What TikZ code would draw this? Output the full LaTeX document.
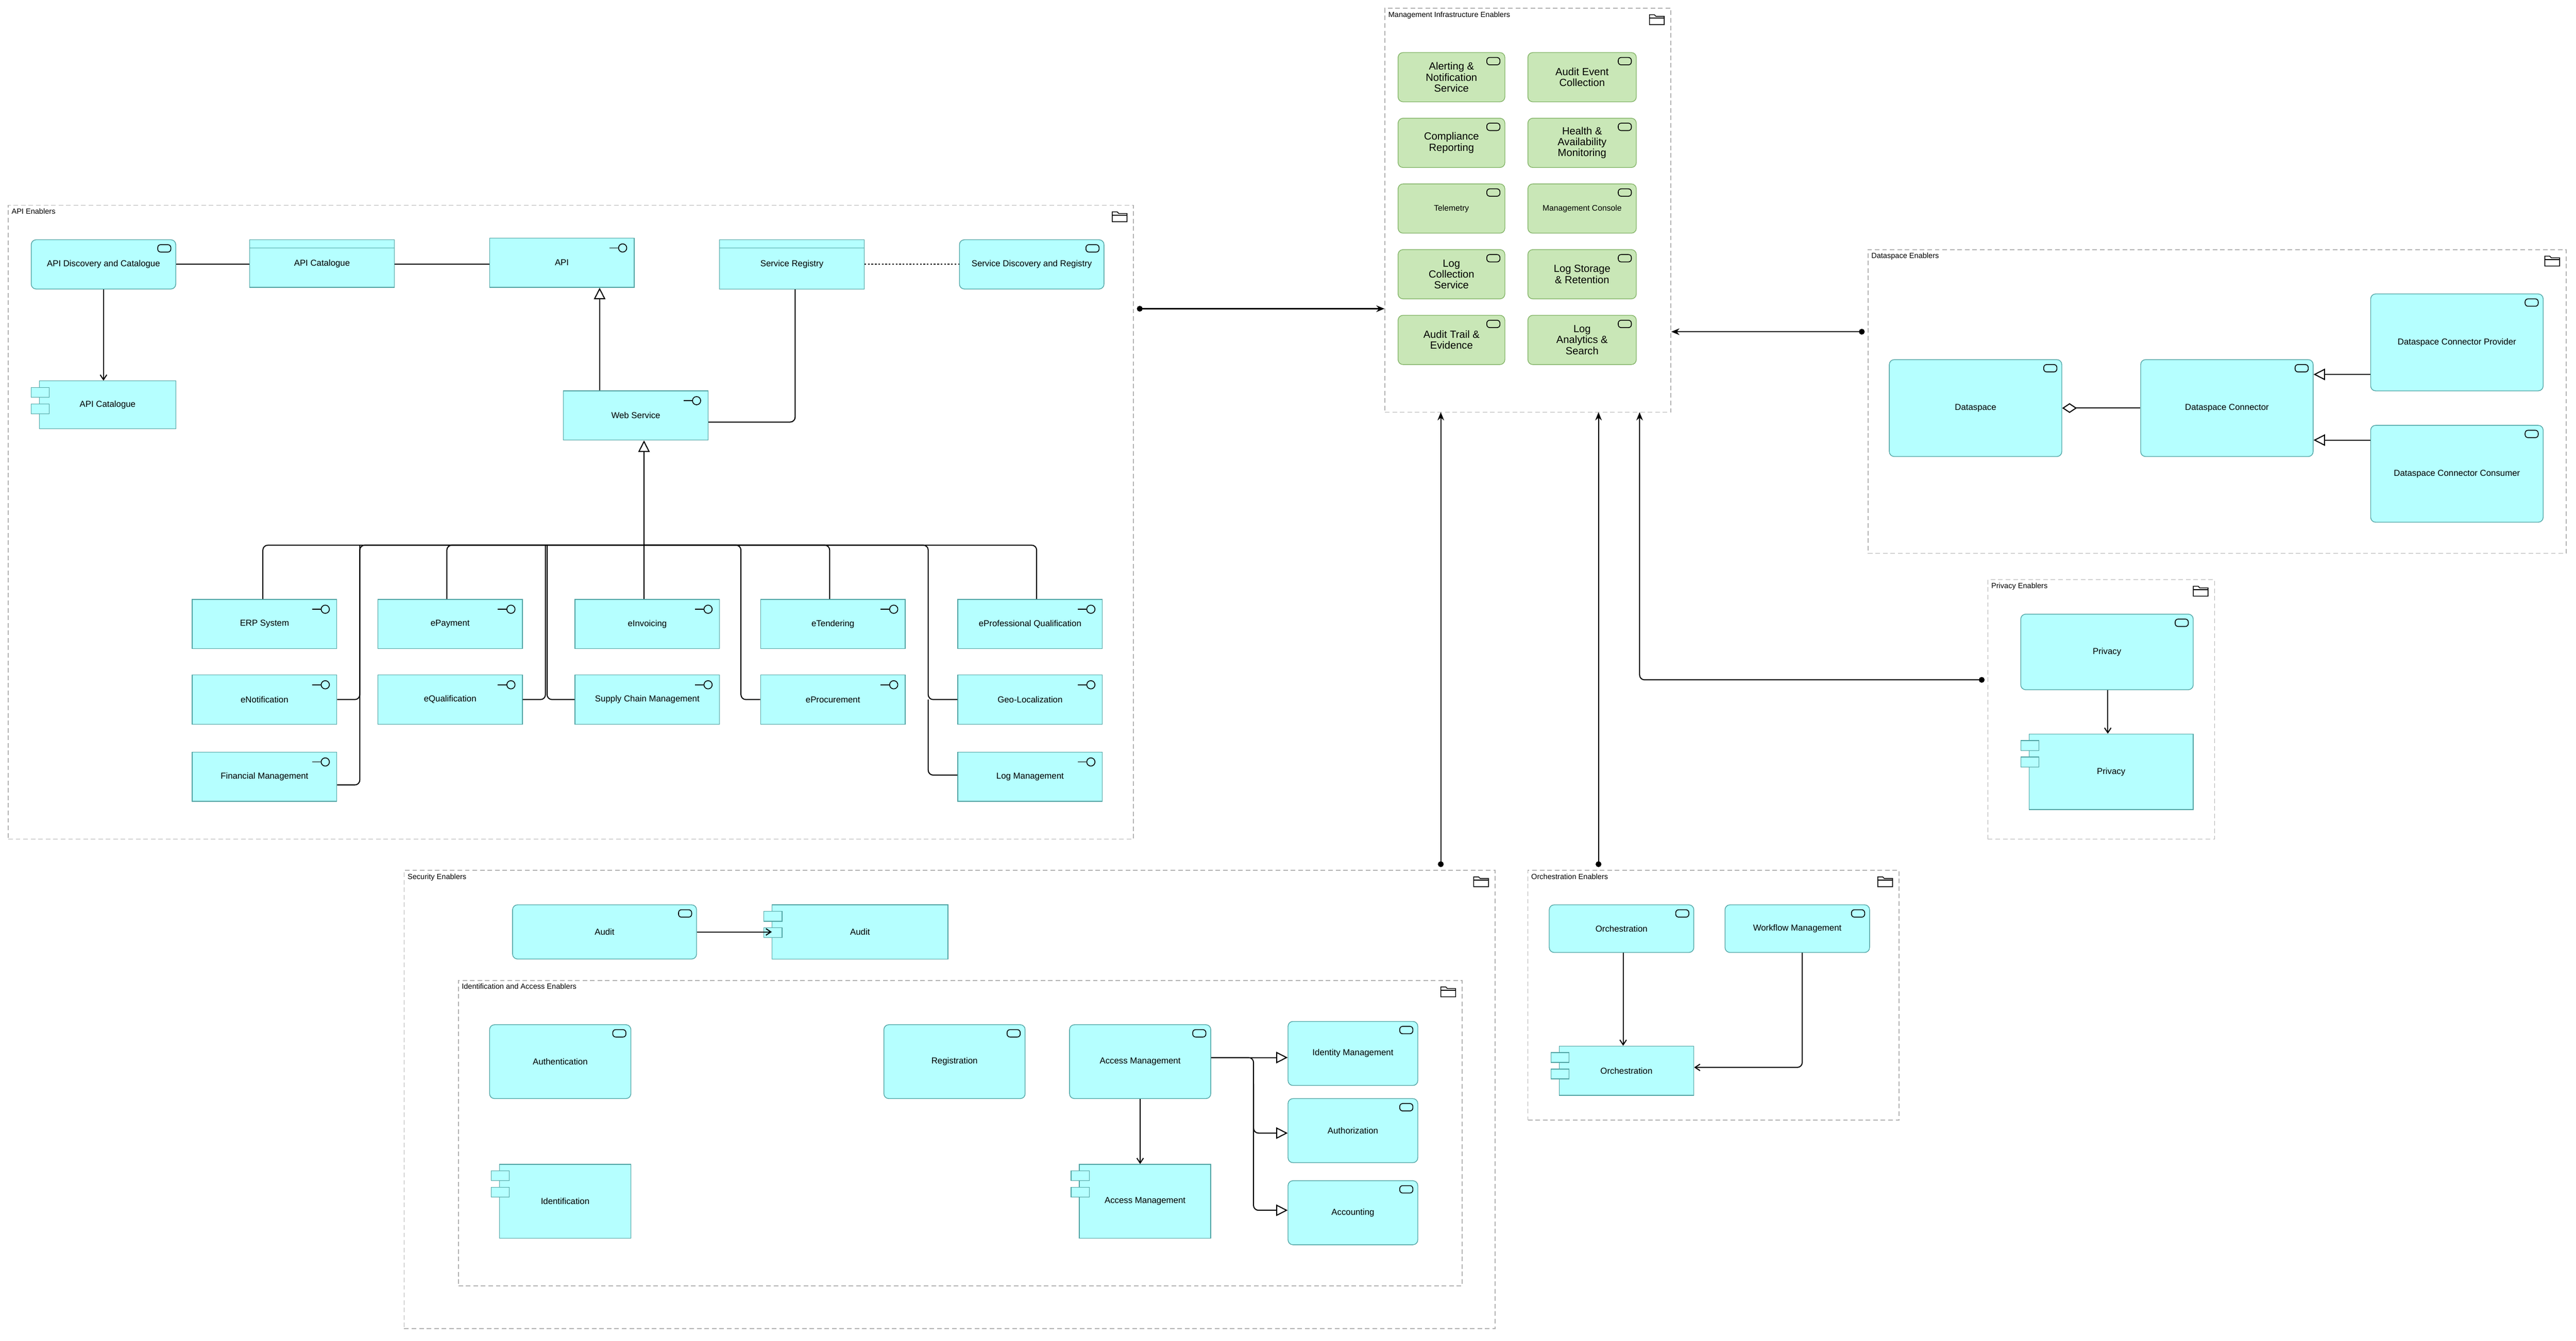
\documentclass[tikz,border=0pt]{standalone}
\usepackage{fontspec}
\setmainfont{Liberation Sans}
\usetikzlibrary{arrows.meta}
\definecolor{cy}{HTML}{B5FFFF}
\definecolor{cyb}{HTML}{4FA3A3}
\definecolor{gr}{HTML}{C9E7B7}
\definecolor{grb}{HTML}{82B366}
\tikzset{
 el/.style={draw=cyb,fill=cy,line width=1.2pt,font=\fontsize{15}{17}\selectfont,align=center,inner sep=0},
 svc/.style={el,rounded corners=3mm},
 gsv/.style={el,draw=grb,fill=gr,rounded corners=3mm,font=\fontsize{18}{19}\selectfont},
 grp/.style={draw=black!30,dash pattern=on 8pt off 5pt,line width=1.5pt,inner sep=0},
 glab/.style={anchor=north west,font=\fontsize{13}{15}\selectfont,inner sep=0},
 ln/.style={line width=1.8pt,black},
 real/.style={ln,-{Triangle[open,length=7mm,width=7mm]}},
 ass/.style={ln,-{Straight Barb[length=3mm,width=4mm]}},
 trig/.style={ln,{Circle[length=3.5mm]}-{Stealth[length=5mm,width=4mm]}},
 ic/.style={line width=1.4pt,black},
}
\newcommand\mybox[7]{\node[#7,minimum width={(#4-#2)*1mm},minimum height={(#5-#3)*1mm}] (#1) at ({(#2+#4)/2},{(#3+#5)/2}) {#6};}
\newcommand\sicon[2]{\draw[ic,rounded corners=1.8mm] ({#1-11},{#2+3}) rectangle ({#1-3},{#2+7.5});}
\newcommand\iicon[2]{\draw[ic] ({#1-15},{#2+6}) -- ({#1-9.5},{#2+6}); \draw[ic] ({#1-7},{#2+6}) circle (2.5);}
\newcommand\cicon[3]{\draw[draw=cyb,fill=cy,line width=1.2pt] ({#1-5},{#2+4}) rectangle ({#1+6},{#2+10}); \draw[draw=cyb,fill=cy,line width=1.2pt] ({#1-5},{#2+14}) rectangle ({#1+6},{#2+20});}
\newcommand\dicon[3]{\draw[cyb,line width=1.2pt] (#1,{#2+5}) -- (#3,{#2+5});}
\newcommand\ficon[2]{\draw[ic] ({#1-13},{#2+4}) -- ({#1-13},{#2+10}) -- ({#1-4},{#2+10}) -- ({#1-4},{#2+5}) -- ({#1-9},{#2+5}) -- ({#1-10},{#2+4}) -- cycle; \draw[ic] ({#1-13},{#2+6}) -- ({#1-4},{#2+6});}
\newcommand\grpbox[6]{\node[grp,minimum width={(#4-#2)*1mm},minimum height={(#5-#3)*1mm}] (#1) at ({(#2+#4)/2},{(#3+#5)/2}) {}; \node[glab] (#1l) at ({#2+2},{#3+2}) {#6}; \ficon{#4}{#3}}
\begin{document}
\begin{tikzpicture}[x=1mm,y=-1mm]
\useasboundingbox[fill=white] (0,0) rectangle (1568,816.4);
% groups
\grpbox{gm}{843}{5}{1017}{251}{Management Infrastructure Enablers}
\grpbox{gapi}{5}{125}{690}{511}{API Enablers}
\grpbox{gds}{1137}{152}{1562}{337}{Dataspace Enablers}
\grpbox{gpr}{1210}{353}{1348}{511}{Privacy Enablers}
\grpbox{gsec}{246}{530}{910}{809}{Security Enablers}
\grpbox{gia}{279}{597}{890}{783}{Identification and Access Enablers}
\grpbox{gor}{930}{530}{1156}{682}{Orchestration Enablers}
% management
\mybox{m1}{851}{32}{916}{62}{Alerting \&\\Notification\\Service}{gsv}\sicon{916}{32}
\mybox{m2}{930}{32}{996}{62}{Audit Event\\Collection}{gsv}\sicon{996}{32}
\mybox{m3}{851}{72}{916}{102}{Compliance\\Reporting}{gsv}\sicon{916}{72}
\mybox{m4}{930}{72}{996}{102}{Health \&\\Availability\\Monitoring}{gsv}\sicon{996}{72}
\mybox{m5}{851}{112}{916}{142}{\fontsize{14}{16}\selectfont Telemetry}{gsv}\sicon{916}{112}
\mybox{m6}{930}{112}{996}{142}{\fontsize{14}{16}\selectfont Management Console}{gsv}\sicon{996}{112}
\mybox{m7}{851}{152}{916}{182}{Log\\Collection\\Service}{gsv}\sicon{916}{152}
\mybox{m8}{930}{152}{996}{182}{Log Storage\\\& Retention}{gsv}\sicon{996}{152}
\mybox{m9}{851}{192}{916}{222}{Audit Trail \&\\Evidence}{gsv}\sicon{916}{192}
\mybox{m10}{930}{192}{996}{222}{Log\\Analytics \&\\Search}{gsv}\sicon{996}{192}
% API
\mybox{apid}{19}{146}{107}{176}{API Discovery and Catalogue}{svc}\sicon{107}{146}
\mybox{apic}{152}{146}{240}{175}{API Catalogue}{el}\dicon{152}{146}{240}
\mybox{api}{298}{145}{386}{175}{API}{el}\iicon{386}{145}
\mybox{sreg}{438}{146}{526}{176}{Service Registry}{el}\dicon{438}{146}{526}
\mybox{sdr}{584}{146}{672}{176}{Service Discovery and Registry}{svc}\sicon{672}{146}
\mybox{apicc}{24}{232}{107}{261}{API Catalogue}{el}\cicon{24}{232}{}
\mybox{ws}{343}{238}{431}{268}{Web Service}{el}\iicon{431}{238}
\mybox{erp}{117}{365}{205}{395}{ERP System}{el}\iicon{205}{365}
\mybox{epay}{230}{365}{318}{395}{ePayment}{el}\iicon{318}{365}
\mybox{einv}{350}{365}{438}{395}{eInvoicing}{el}\iicon{438}{365}
\mybox{eten}{463}{365}{551}{395}{eTendering}{el}\iicon{551}{365}
\mybox{epq}{583}{365}{671}{395}{eProfessional Qualification}{el}\iicon{671}{365}
\mybox{enot}{117}{411}{205}{441}{eNotification}{el}\iicon{205}{411}
\mybox{equal}{230}{411}{318}{441}{eQualification}{el}\iicon{318}{411}
\mybox{scm}{350}{411}{438}{441}{Supply Chain Management}{el}\iicon{438}{411}
\mybox{eproc}{463}{411}{551}{441}{eProcurement}{el}\iicon{551}{411}
\mybox{geo}{583}{411}{671}{441}{Geo-Localization}{el}\iicon{671}{411}
\mybox{fin}{117}{458}{205}{488}{Financial Management}{el}\iicon{205}{458}
\mybox{logm}{583}{458}{671}{488}{Log Management}{el}\iicon{671}{458}
\draw[ln] (apid.east) -- (apic.west |- apid.east); \draw[ln] (apic.east |- apid.east) -- (api.west |- apid.east);
\draw[ln,dash pattern=on 3pt off 3pt] (sreg.east |- sdr.west) -- (sdr.west);
\draw[ass] (apid.south -| 63,0) -- (apicc.north -| 63,0);
\draw[real] (ws.north -| 365,0) -- (api.south -| 365,0);
\draw[ln,rounded corners=3mm] (ws.east |- 0,257) -| (sreg.south -| 484,0);
\coordinate (bus) at (392,332);
\begin{scope}[ln,rounded corners=3mm]
\draw (erp.north -| 160,0) |- (bus);
\draw (epay.north -| 272,0) |- (bus);
\draw (eten.north -| 505,0) |- (bus);
\draw (epq.north -| 631,0) |- (bus);
\draw (einv.north -| bus) -- (bus);
\draw (enot.east) -- (219,426) -- (219,332) -- (bus);
\draw (fin.east |- 0,478) -- (219,478) -- (219,332);
\draw (equal.east) -- (332,426) -- (332,332);
\draw (scm.west) -- (333,426) -- (333,332);
\draw (eproc.west) -- (451,426) -- (451,332) -- (bus);
\draw (geo.west) -- (565,426) -- (565,332) -- (bus);
\draw (logm.west |- 0,472) -- (565,472) -- (565,426);
\end{scope}
\draw[real] (bus) -- (ws.south -| bus);
% Dataspace
\mybox{ds}{1150}{219}{1255}{278}{Dataspace}{svc}\sicon{1255}{219}
\mybox{dsc}{1303}{219}{1408}{278}{Dataspace Connector}{svc}\sicon{1408}{219}
\mybox{dsp}{1443}{179}{1548}{238}{Dataspace Connector Provider}{svc}\sicon{1548}{179}
\mybox{dsk}{1443}{259}{1548}{318}{Dataspace Connector Consumer}{svc}\sicon{1548}{259}
\draw[ln,{Diamond[open,length=9mm,width=6mm]}-] (ds) -- (dsc);
\draw[real] (dsp.west |- 0,228) -- (dsc.east |- 0,228);
\draw[real] (dsk.west |- 0,268) -- (dsc.east |- 0,268);
% Privacy
\mybox{prs}{1230}{374}{1335}{420}{Privacy}{svc}\sicon{1335}{374}
\mybox{prc}{1235}{447}{1335}{493}{Privacy}{el}\cicon{1235}{447}{}
\draw[ass] (prs.south -| 1283,0) -- (prc.north -| 1283,0);
% Security
\mybox{auds}{312}{551}{424}{584}{Audit}{svc}\sicon{424}{551}
\mybox{audc}{470}{551}{577}{584}{Audit}{el}\cicon{470}{551}{}
\draw[ass] (auds) -- (audc);
\mybox{authn}{298}{624}{384}{669}{Authentication}{svc}\sicon{384}{624}
\mybox{reg}{538}{624}{624}{669}{Registration}{svc}\sicon{624}{624}
\mybox{ams}{651}{624}{737}{669}{Access Management}{svc}\sicon{737}{624}
\mybox{idm}{784}{622}{863}{661}{Identity Management}{svc}\sicon{863}{622}
\mybox{authz}{784}{669}{863}{708}{Authorization}{svc}\sicon{863}{669}
\mybox{acc}{784}{719}{863}{758}{Accounting}{svc}\sicon{863}{719}
\mybox{idc}{304}{709}{384}{754}{Identification}{el}\cicon{304}{709}{}
\mybox{amc}{657}{709}{737}{754}{Access Management}{el}\cicon{657}{709}{}
\draw[ass] (ams) -- (amc.north -| ams);
\draw[real] (ams.east |- 0,644) -- (idm.west |- 0,644);
\draw[real,rounded corners=3mm] (ams.east |- 0,644) -- (763,644) |- (authz.west |- 0,690);
\draw[real,rounded corners=3mm] (763,660) |- (acc.west |- 0,737);
% Orchestration
\mybox{ors}{943}{551}{1031}{580}{Orchestration}{svc}\sicon{1031}{551}
\mybox{wfm}{1050}{551}{1138}{580}{Workflow Management}{svc}\sicon{1138}{551}
\mybox{orc}{949}{637}{1031}{667}{Orchestration}{el}\cicon{949}{637}{}
\draw[ass] (ors.south -| 988,0) -- (orc.north -| 988,0);
\draw[ass,rounded corners=3mm] (wfm.south -| 1097,0) |- (orc.east |- 0,650);
% triggers to management
\draw[trig] (692,188) -- (gm.west |- 0,188);
\draw[trig] (1135,202) -- (gm.east |- 0,202);
\draw[trig,rounded corners=3mm] (1208,414) -| (998,251);
\draw[trig] (877,528) -- (877,251);
\draw[trig] (973,528) -- (973,251);
\end{tikzpicture}
\end{document}
